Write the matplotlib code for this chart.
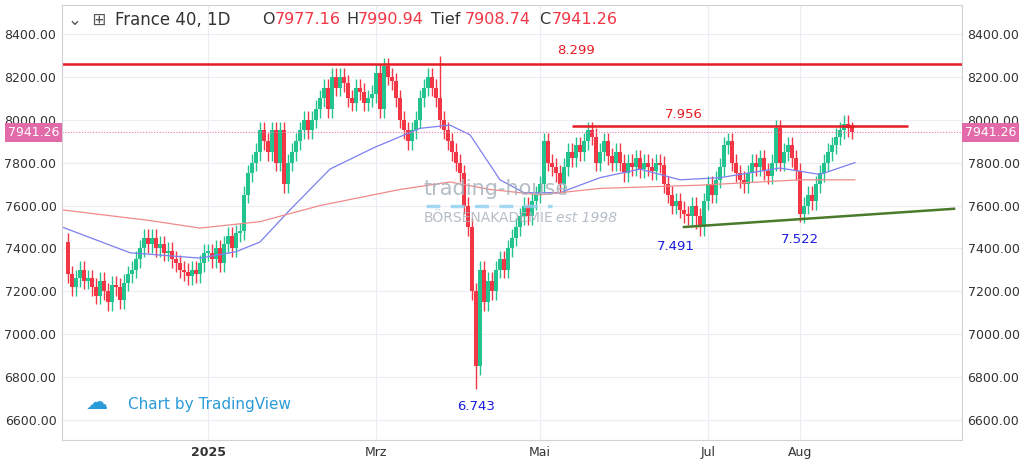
import matplotlib
matplotlib.use("Agg")
import matplotlib.pyplot as plt
import numpy as np
import pandas as pd

hol = pd.to_datetime(["2024-12-25","2024-12-26","2025-01-01","2025-04-18","2025-04-21","2025-05-01"])
dates = [d for d in pd.bdate_range("2024-11-11", "2025-08-20") if d not in hol]

closes = [7280,7220,7260,7300,7250,7260,7220,7180,7250,7200,7150,7230,7220,7160,7240,
 7280,7300,7350,7400,7450,7420,7450,7400,7420,7380,7390,7350,7330,7300,7290,7270,7300,7280,7330,7380,
 7380,7350,7400,7330,7420,7460,7400,7470,7480,7650,7750,7800,7850,7950,7900,7850,7950,7800,7950,7700,7800,7850,
 7900,7950,8000,7950,8000,8050,8100,8150,8050,8200,8150,8200,8170,8100,8080,8150,8130,8080,8100,8120,
 8220,8050,8250,8200,8180,8100,8000,7950,7900,7950,8000,8100,8150,8200,8150,8100,8000,7950,7900,7850,7800,
 7750,7600,7500,7200,6850,7300,7150,7250,7200,7300,7350,7300,7400,7450,7500,7550,7600,7550,7620,7650,
 7700,7900,7800,7780,7750,7700,7780,7850,7820,7880,7850,7900,7950,7920,7800,7850,7900,7830,7800,7850,7800,
 7750,7800,7780,7820,7770,7800,7780,7760,7800,7790,7700,7650,7600,7620,7580,7560,7550,7600,7550,7500,7620,
 7700,7650,7720,7780,7880,7900,7800,7750,7720,7700,7750,7800,7780,7820,7760,7740,7800,7960,7800,7850,7880,7820,7760,
 7560,7600,7650,7620,7700,7750,7800,7850,7880,7920,7950,7980,7960,7941.26]
first_open = 7430
extremes = {102: (None, 6743), 93: (8299, None), 157: (None, 7491), 183: (None, 7522)}
wick = 40

ma50_idx = [-1.5, 15.5, 33, 42, 48, 55.5, 65.5, 76.5, 88, 95.5, 100.5, 108, 114, 123, 133, 143, 153, 163, 178, 188, 196.7]
ma50_val = [7500, 7380, 7355, 7385, 7430, 7580, 7770, 7870, 7960, 7975, 7930, 7720, 7660, 7660, 7730, 7770, 7720, 7730, 7775, 7745, 7800]
ma200_idx = [-1.5, 20.5, 33, 48, 63, 83, 95.5, 105.5, 118, 133, 158, 183, 196.7]
ma200_val = [7580, 7530, 7495, 7525, 7600, 7675, 7710, 7675, 7650, 7680, 7695, 7720, 7720]

n = len(closes)
opens = [first_open] + closes[:-1]
opens[-1] = 7977.16

fig = plt.figure(figsize=(10.24, 4.67), dpi=100)
ax = fig.add_axes([62/1024, 27/467, 900/1024, 435/467])
green = "#22c38e"; red = "#f23645"
for i in range(n):
    o, c = opens[i], closes[i]
    col = green if c >= o else red
    hi = max(o, c) + wick; lo = min(o, c) - wick
    if i in extremes:
        h2, l2 = extremes[i]
        if h2: hi = h2
        if l2: lo = l2
    if i == n-1:
        hi, lo = 7990.94, 7908.74
    ax.vlines(i, lo, hi, color=col, lw=1)
    ax.bar(i, max(abs(c-o), 6), bottom=min(o, c), width=0.8, color=col, lw=0)

ax.plot(ma50_idx, ma50_val, color="#7b7ff0", lw=0.9)
ax.plot(ma200_idx, ma200_val, color="#f08a8a", lw=0.9)

ax.axhline(8260, color="#e51c23", lw=1.8)
ax.text(127, 8305, "8.299", color="#e51c23", fontsize=9.5, ha="center")
ax.hlines(7970, 126, 210, color="#e51c23", lw=1.8)
ax.text(154, 8010, "7.956", color="#e51c23", fontsize=9.5, ha="center")
ax.plot([154, 221.5], [7500, 7585], color="#4a7a2a", lw=1.8)
ax.text(152, 7395, "7.491", color="#1a1ae0", fontsize=9.5, ha="center")
ax.text(183, 7425, "7.522", color="#1a1ae0", fontsize=9.5, ha="center")
ax.text(102, 6645, "6.743", color="#1a1ae0", fontsize=9.5, ha="center")
ax.axhline(7941.26, color="#e67ab0", lw=0.8, ls=(0, (1, 1.5)))

ax.set_ylim(6507, 8535)
ax.set_xlim(-1.5, 223.5)
yt = np.arange(6600, 8401, 200)
ax.set_yticks(yt)
ax.set_yticklabels([f"{v:.2f}" for v in yt], fontsize=9, color="#333")
ax.tick_params(axis="y", labelright=True, right=True, length=0, pad=4)
mon = {1:"2025", 3:"Mrz", 5:"Mai", 7:"Jul", 8:"Aug"}
ticks, labels = [], []
for m, lab in mon.items():
    for i, d in enumerate(dates[:n]):
        if d.year == 2025 and d.month == m:
            ticks.append(i); labels.append(lab); break
ax.set_xticks(ticks)
ax.set_xticklabels(labels, fontsize=9, color="#333")
for t in ax.get_xticklabels():
    if t.get_text() == "2025": t.set_fontweight("bold")
ax.tick_params(axis="x", length=0, pad=4)
ax.grid(True, color="#ececf4", lw=0.8)
ax.set_axisbelow(True)
for s in ax.spines.values():
    s.set_color("#d0d0d8")

for xx, ha in [(-0.003, "right"), (1.003, "left")]:
    ax.text(xx, 7941.26, "7941.26", transform=ax.get_yaxis_transform(), ha=ha, va="center",
            fontsize=9, color="white", bbox=dict(boxstyle="square,pad=0.25", fc="#e36aa8", ec="none"))

fig.text(115/1024, 1-20/467, "France 40, 1D", fontsize=12, color="#333", va="center")
parts = [("O", "#333"), ("7977.16", red), ("H", "#333"), ("7990.94", red), ("Tief", "#333"), ("7908.74", red), ("C", "#333"), ("7941.26", red)]
xs = [262, 275, 346, 358, 431, 465, 539, 552]
for (t, c), xp in zip(parts, xs):
    fig.text(xp/1024, 1-20/467, t, fontsize=11.5, color=c, va="center")
fig.text(68/1024, 1-20/467, "⌄  ⊞", fontsize=12, color="#555", va="center")

ax.text(89, 7650, "trading-house", fontsize=15, color="#a8b2bc", ha="left", alpha=0.85)
ax.plot([89.5, 121], [7600, 7600], color="#8fd0f0", lw=2.5, ls=(0, (4, 3)), alpha=0.8)
ax.text(89, 7525, "BÖRSENAKADEMIE", fontsize=10, color="#a8b2bc", ha="left", alpha=0.85)
ax.text(122, 7525, "est 1998", fontsize=10, color="#a8b2bc", ha="left", alpha=0.85, style="italic")
fig.text(128/1024, 1-404/467, "Chart by TradingView", fontsize=11, color="#2a9bd8", va="center")
fig.text(86/1024, 1-403/467, "☁", fontsize=16, color="#2a9bd8", va="center")

fig.savefig("out.png", dpi=100, facecolor="white")
